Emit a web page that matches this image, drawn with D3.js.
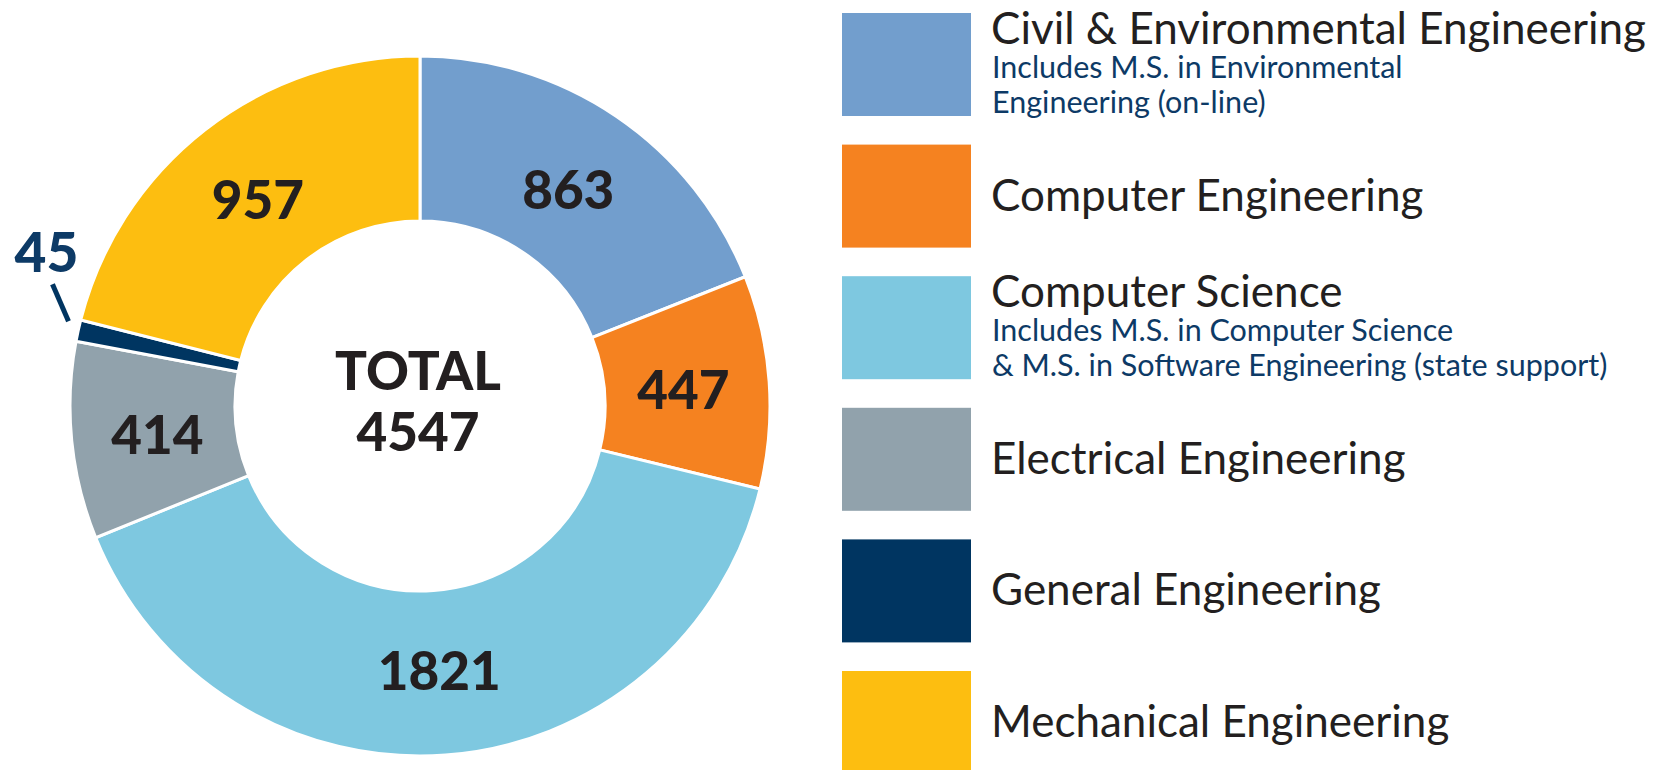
<!DOCTYPE html>
<html>
<head>
<meta charset="utf-8">
<script src="https://cdn.jsdelivr.net/npm/d3@7"></script>
<style>
  body { margin: 0; background: #fff; }
  svg { display: block; }
</style>
</head>
<body>
<div id="chart"></div>
<script>
var width = 1661,
    height = 770;

// data
var programs = ['Civil & Environmental Engineering', 'Computer Engineering', 'Computer Science',
    'Electrical Engineering', 'General Engineering', 'Mechanical Engineering'];
var enrolled = [863, 447, 1821, 414, 45, 957];
var colors = ['#729ecd', '#f58220', '#7ec8e0', '#91a2ac', '#003561', '#fdbe10'];
var notes = [
    ['Includes M.S. in Environmental', 'Engineering (on-line)'],
    [],
    ['Includes M.S. in Computer Science', '& M.S. in Software Engineering (state support)'],
    [],
    [],
    []
];
var totalLabel = 'TOTAL';

var cx = 420, cy = 406,
    outerR = 350, innerR = 185;

var svg = d3.select('#chart').append('svg')
    .attr('width', width)
    .attr('height', height);

var rows = programs.map(function (p, i) {
    return { name: p, value: enrolled[i], color: colors[i], note: notes[i] };
});

var pie = d3.pie()
    .sort(null)
    .value(d => d.value);

var arc = d3.arc()
    .innerRadius(innerR)
    .outerRadius(outerR);

var labelArc = d3.arc()
    .innerRadius(264)
    .outerRadius(264);

var g = svg.append('g').attr('transform', `translate(${cx},${cy})`);

var slices = pie(rows);

g.selectAll('.slice')
    .data(slices)
    .enter()
    .append('path')
    .attr('class', 'slice')
    .attr('d', arc)
    .attr('fill', d => d.data.color)
    .attr('stroke', '#fff')
    .attr('stroke-width', 3);

var numFont = 'Lato, Roboto, sans-serif';

// labels inside the ring (small ones go outside)
g.selectAll('.val')
    .data(slices.filter(d => d.data.value > 100))
    .enter()
    .append('text')
    .attr('class', 'val')
    .attr('transform', d => `translate(${labelArc.centroid(d)})`)
    .attr('text-anchor', 'middle')
    .attr('dy', '0.4em')
    .style('font-family', numFont)
    .style('font-weight', 900)
    .style('font-size', '53px')
    .style('fill', '#231f20')
    .text(d => d.data.value);

// small slice: leader line + label
slices.filter(d => d.data.value <= 100).forEach(function (d) {
    var a = (d.startAngle + d.endAngle) / 2;
    var r0 = outerR + 11;
    var x0 = r0 * Math.sin(a) + 1, y0 = -r0 * Math.cos(a) - 7;
    var x1 = x0 - 16, y1 = y0 - 37;
    g.append('line')
        .attr('x1', x0).attr('y1', y0)
        .attr('x2', x1).attr('y2', y1)
        .attr('stroke', d.data.color)
        .attr('stroke-width', 5);
    g.append('text')
        .attr('x', x1 - 6)
        .attr('y', y1 - 12)
        .attr('text-anchor', 'middle')
        .style('font-family', numFont)
        .style('font-weight', 900)
        .style('font-size', '55px')
        .style('fill', '#0d3a66')
        .text(d.data.value);
});

// center total
var total = d3.sum(enrolled);
var center = g.append('text')
    .attr('text-anchor', 'middle')
    .style('font-family', numFont)
    .style('font-weight', 900)
    .style('font-size', '53px')
    .style('fill', '#231f20');
center.append('tspan').attr('x', -2).attr('y', -16).text(totalLabel);
center.append('tspan').attr('x', -2).attr('y', 45).text(total);

// legend
var step = 131.6, box = 103;
var legY = d3.scaleBand()
    .domain(programs)
    .range([13, 13 + step * programs.length - (step - box)])
    .paddingInner(1 - box / step)
    .paddingOuter(0);

var leg = svg.append('g').attr('class', 'legend');

var item = leg.selectAll('.item')
    .data(rows)
    .enter()
    .append('g')
    .attr('class', 'item')
    .attr('transform', d => `translate(842,${legY(d.name)})`);

item.append('rect')
    .attr('width', 129)
    .attr('height', legY.bandwidth())
    .attr('fill', d => d.color);

item.each(function (d) {
    var sel = d3.select(this);
    var hasNote = d.note.length > 0;
    var titleY = hasNote ? 31 : 66;
    sel.append('text')
        .attr('x', 149)
        .attr('y', titleY)
        .style('font-family', 'Lato, sans-serif')
        .style('font-size', '44px')
        .style('fill', '#231f20')
        .text(d.name);
    d.note.forEach(function (line, j) {
        sel.append('text')
            .attr('x', 150)
            .attr('y', titleY + 34 + j * 35)
            .style('font-family', 'Lato, sans-serif')
            .style('font-size', '30.5px')
            .style('fill', '#0d3a66')
            .text(line);
    });
});
</script>
</body>
</html>
